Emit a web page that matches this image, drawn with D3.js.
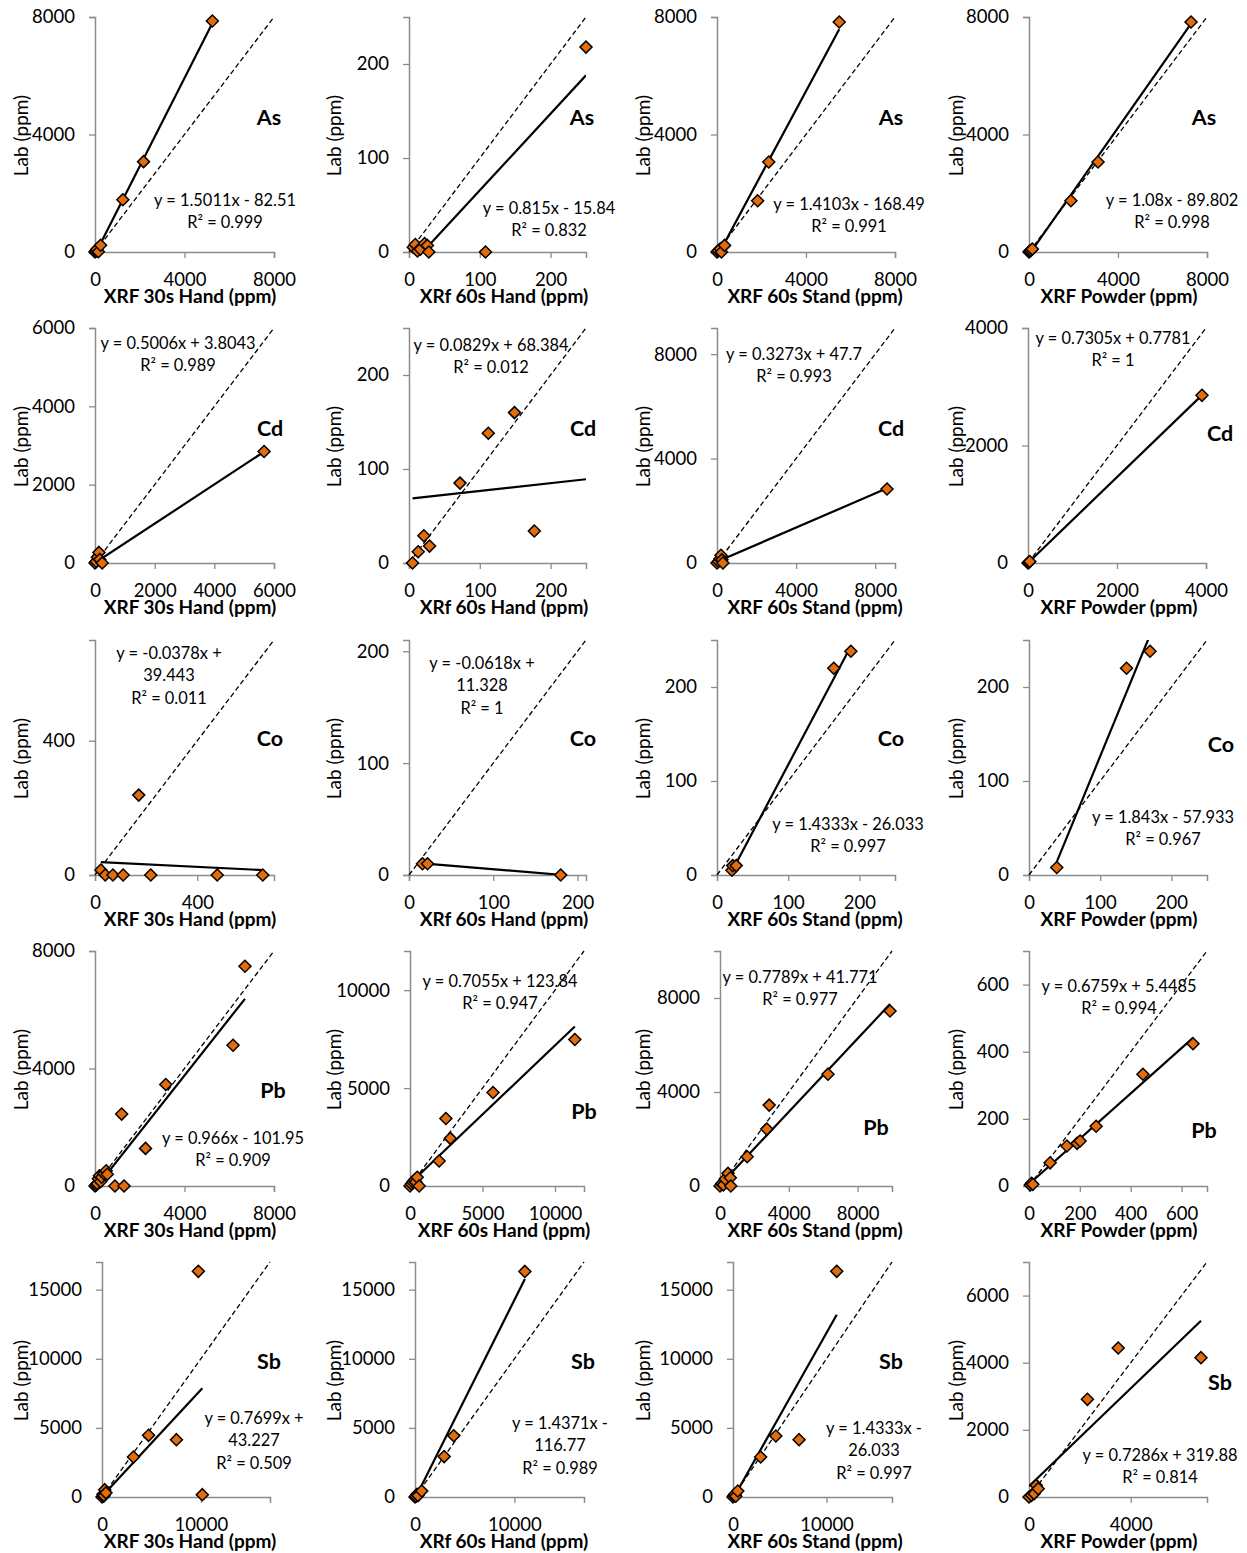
<!DOCTYPE html>
<html>
<head>
<meta charset="utf-8">
<script src="https://cdn.jsdelivr.net/npm/d3@7"></script>
<style>
  body { margin: 0; background: #ffffff; }
  svg { display: block; }
</style>
</head>
<body>
<div class="display"></div>
<script>
const WIDTH = 1247;
const HEIGHT = 1553;
const FONT = "Lato, 'Open Sans', sans-serif";
const AXIS_COLOR = '#8c8c8c';
const MARKER_FILL = '#e46c0a';

// one row per element, one column per XRF method
const ELEMENTS = ['As', 'Cd', 'Co', 'Pb', 'Sb'];
const X_TITLES = [
  ['XRF 30s Hand (ppm)', 'XRf 60s Hand (ppm)', 'XRF 60s Stand (ppm)', 'XRF Powder (ppm)'],
  ['XRF 30s Hand (ppm)', 'XRf 60s Hand (ppm)', 'XRF 60s Stand (ppm)', 'XRF Powder (ppm)'],
  ['XRF 30s Hand (ppm)', 'XRf 60s Hand (ppm)', 'XRF 60s Stand (ppm)', 'XRF Powder (ppm)'],
  ['XRF 30s Hand (ppm)', 'XRF 60s Hand (ppm)', 'XRF 60s Stand (ppm)', 'XRF Powder (ppm)'],
  ['XRF 30s Hand (ppm)', 'XRf 60s Hand (ppm)', 'XRF 60s Stand (ppm)', 'XRF Powder (ppm)']
];
const Y_TITLE = 'Lab (ppm)';

// [xrf, lab] pairs
const AS_HAND30 = [[0, 0], [40, 30], [80, 90], [150, 10], [250, 230], [1244, 1780], [2169, 3076], [5244, 7865]];
const AS_HAND60 = [[6, 5], [9, 8], [12, 1], [16, 3], [22, 9], [26, 7], [28, 0], [108, 0], [250, 218]];
const AS_STAND60 = [[0, 0], [60, 40], [150, 110], [200, 0], [340, 225], [1826, 1746], [2327, 3065], [5494, 7831]];
const AS_POWDER = [[0, 0], [40, 30], [100, 60], [150, 100], [1883, 1746], [3103, 3065], [7283, 7831]];

const CD_HAND30 = [[0, 0], [40, 40], [80, 150], [133, 270], [160, 90], [240, 0], [5667, 2848]];
const CD_HAND60 = [[5, 0], [13, 12], [21, 29], [29, 18], [72, 85], [112, 138], [149, 160], [177, 34]];
const CD_STAND60 = [[0, 0], [80, 60], [150, 160], [202, 294], [250, 120], [300, 0], [8596, 2834]];
const CD_POWDER = [[0, 0], [20, 10], [40, 25], [3910, 2854]];

const CO_HAND30 = [[23, 15], [40, 0], [70, 0], [110, 0], [171, 238], [218, 0], [478, 0], [656, 0]];
const CO_HAND60 = [[16, 10], [22, 10], [180, 0]];
const CO_STAND60 = [[21, 5], [22, 10], [27, 10], [164, 220], [188, 238]];
const CO_POWDER = [[39, 8], [137, 220], [170, 238]];

const PB_HAND30 = [[0, 0], [50, 30], [100, 80], [150, 250], [200, 350], [250, 150], [300, 300], [400, 420],
  [500, 520], [550, 400], [889, 0], [1191, 2448], [1298, 0], [2258, 1280], [3164, 3456], [6169, 4793], [6702, 7479]];
const PB_HAND60 = [[0, 0], [100, 100], [200, 200], [300, 300], [400, 200], [500, 450], [633, 0],
  [2009, 1275], [2477, 3450], [2780, 2431], [5725, 4776], [11367, 7479]];
const PB_STAND60 = [[0, 0], [100, 100], [200, 50], [300, 300], [465, 538], [600, 350], [628, 0],
  [1581, 1246], [2721, 2422], [2860, 3442], [6279, 4759], [9884, 7450]];
const PB_POWDER = [[5, 3], [10, 8], [15, 5], [83, 69], [149, 119], [189, 127], [201, 134], [264, 178], [448, 333], [645, 424]];

const SB_HAND30 = [[0, 0], [100, 200], [150, 50], [200, 100], [282, 530], [400, 300], [3182, 2894],
  [4713, 4461], [7533, 4148], [9749, 16325], [10152, 169]];
const SB_HAND60 = [[0, 0], [100, 50], [200, 200], [300, 100], [683, 438], [2934, 2923], [3898, 4433], [11052, 16318]];
const SB_STAND60 = [[0, 0], [100, 100], [200, 200], [300, 50], [514, 434], [2955, 2894], [4582, 4414], [7065, 4148], [11090, 16325]];
const SB_POWDER = [[0, 0], [100, 50], [200, 100], [283, 347], [362, 248], [2297, 2909], [3508, 4438], [6764, 4150]];

const PANEL_POINTS = [
  [AS_HAND30, AS_HAND60, AS_STAND60, AS_POWDER],
  [CD_HAND30, CD_HAND60, CD_STAND60, CD_POWDER],
  [CO_HAND30, CO_HAND60, CO_STAND60, CO_POWDER],
  [PB_HAND30, PB_HAND60, PB_STAND60, PB_POWDER],
  [SB_HAND30, SB_HAND60, SB_STAND60, SB_POWDER]
];

// axes are square: same max on x and y
const AXIS_MAX = [[8000, 250, 8000, 8000], [6000, 250, 9000, 4000], [700, 210, 250, 250], [8000, 12000, 10000, 700], [17000, 17000, 17000, 7000]];
const X_STEP = [[4000, 100, 4000, 4000], [2000, 100, 4000, 2000], [400, 100, 100, 100], [4000, 5000, 4000, 200], [10000, 10000, 10000, 4000]];
const Y_STEP = [[4000, 100, 4000, 4000], [2000, 100, 4000, 2000], [400, 100, 100, 100], [4000, 5000, 4000, 200], [5000, 5000, 5000, 2000]];

// trendlines as drawn
const SLOPE = [[1.5011, 0.815, 1.4103, 1.08], [0.5006, 0.0829, 0.3273, 0.7305], [-0.0378, -0.0618, 1.4333, 1.843], [0.966, 0.7055, 0.7789, 0.6759], [0.7699, 1.4371, 1.2, 0.7286]];
const INTERCEPT = [[-82.51, -15.84, -168.49, -89.802], [3.8043, 68.384, 47.7, 0.7781], [39.443, 11.328, -26.033, -57.933], [-101.95, 123.84, 41.771, 5.4485], [43.227, -116.77, -120, 319.88]];
const TREND_X = [
  [[0, 5244], [6, 250], [0, 5494], [0, 7283]],
  [[0, 5667], [5, 250], [0, 8596], [0, 3910]],
  [[23, 656], [16, 180], [21, 188], [39, 170]],
  [[0, 6702], [0, 11367], [0, 9884], [5, 645]],
  [[0, 10152], [0, 11052], [300, 11090], [0, 6764]]
];
const EQUATIONS = [
  [['y = 1.5011x - 82.51', 'R² = 0.999'], ['y = 0.815x - 15.84', 'R² = 0.832'], ['y = 1.4103x - 168.49', 'R² = 0.991'], ['y = 1.08x - 89.802', 'R² = 0.998']],
  [['y = 0.5006x + 3.8043', 'R² = 0.989'], ['y = 0.0829x + 68.384', 'R² = 0.012'], ['y = 0.3273x + 47.7', 'R² = 0.993'], ['y = 0.7305x + 0.7781', 'R² = 1']],
  [['y = -0.0378x +', '39.443', 'R² = 0.011'], ['y = -0.0618x +', '11.328', 'R² = 1'], ['y = 1.4333x - 26.033', 'R² = 0.997'], ['y = 1.843x - 57.933', 'R² = 0.967']],
  [['y = 0.966x - 101.95', 'R² = 0.909'], ['y = 0.7055x + 123.84', 'R² = 0.947'], ['y = 0.7789x + 41.771', 'R² = 0.977'], ['y = 0.6759x + 5.4485', 'R² = 0.994']],
  [['y = 0.7699x +', '43.227', 'R² = 0.509'], ['y = 1.4371x -', '116.77', 'R² = 0.989'], ['y = 1.4333x -', '26.033', 'R² = 0.997'], ['y = 0.7286x + 319.88', 'R² = 0.814']]
];

// layout
const ROW_TOP = [17, 328, 640, 951, 1262];
const PLOT_H = 235;
const COL_BOUNDS = [
  [[95, 274], [409, 586], [717, 895], [1029, 1207]],
  [[95, 274], [409, 586], [717, 895], [1028, 1206]],
  [[95, 274], [409, 586], [717, 895], [1029, 1207]],
  [[95, 274], [410, 584], [720, 892], [1029, 1207]],
  [[102, 270], [415, 584], [733, 892], [1029, 1207]]
];
const X_TITLE_X = [190, 504, 815, 1119];
const Y_TITLE_X = [21, 334, 643, 956];
const EQ_POS = [
  [[225, 200], [549, 208], [849, 204], [1172, 200]],
  [[178, 343], [491, 345], [794, 354], [1113, 338]],
  [[169, 653], [482, 663], [848, 824], [1163, 817]],
  [[233, 1138], [500, 981], [800, 977], [1119, 986]],
  [[254, 1418], [560, 1423], [874, 1428], [1160, 1455]]
];
const LABEL_POS = [
  [[269, 117], [582, 117], [891, 117], [1204, 117]],
  [[270, 428], [583, 428], [891, 428], [1220, 433]],
  [[270, 738], [583, 738], [891, 738], [1221, 744]],
  [[273, 1090], [584, 1111], [876, 1127], [1204, 1130]],
  [[269, 1361], [583, 1361], [891, 1361], [1220, 1382]]
];

let svg;

function setupSvg() {
  svg = d3.select('.display')
    .append('svg')
    .attr('width', WIDTH)
    .attr('height', HEIGHT)
    .style('font-family', FONT);

  svg.append('rect')
    .attr('width', WIDTH)
    .attr('height', HEIGHT)
    .attr('fill', '#ffffff');
}

function styleAxis(g) {
  g.attr('font-family', FONT).attr('font-size', 18.5);
  g.select('.domain').attr('stroke', AXIS_COLOR).attr('stroke-width', 1.5);
  g.selectAll('.tick line').attr('stroke', AXIS_COLOR).attr('stroke-width', 1.3);
  g.selectAll('.tick text').attr('fill', '#000000');
}

function drawPanel(r, c) {
  const top = ROW_TOP[r];
  const bottom = top + PLOT_H;
  const [left, right] = COL_BOUNDS[r][c];
  const max = AXIS_MAX[r][c];

  const x = d3.scaleLinear().domain([0, max]).range([left, right]);
  const y = d3.scaleLinear().domain([0, max]).range([bottom, top]);

  const panel = svg.append('g').attr('class', `panel-${r}-${c}`);

  const clipId = `clip-${r}-${c}`;
  panel.append('clipPath')
    .attr('id', clipId)
    .append('rect')
    .attr('x', left)
    .attr('y', top)
    .attr('width', right - left)
    .attr('height', PLOT_H);

  // axes
  panel.append('g')
    .attr('transform', `translate(0, ${bottom})`)
    .call(d3.axisBottom(x)
      .tickValues(d3.range(0, max + 1, X_STEP[r][c]))
      .tickFormat(d3.format('d'))
      .tickSizeOuter(0)
      .tickSize(6)
      .tickPadding(15))
    .call(styleAxis);

  panel.append('g')
    .attr('transform', `translate(${left}, 0)`)
    .call(d3.axisLeft(y)
      .tickValues(d3.range(0, max + 1, Y_STEP[r][c]))
      .tickFormat(d3.format('d'))
      .tickSizeOuter(0)
      .tickSize(6)
      .tickPadding(14))
    .call(styleAxis);

  // 1:1 reference line
  panel.append('line')
    .attr('x1', x(0))
    .attr('y1', y(0))
    .attr('x2', x(max))
    .attr('y2', y(max))
    .attr('stroke', '#000000')
    .attr('stroke-width', 1.3)
    .attr('stroke-dasharray', '5,3');

  // linear trendline
  const [x0, x1] = TREND_X[r][c];
  const f = v => SLOPE[r][c] * v + INTERCEPT[r][c];
  panel.append('line')
    .attr('clip-path', `url(#${clipId})`)
    .attr('x1', x(x0))
    .attr('y1', y(f(x0)))
    .attr('x2', x(x1))
    .attr('y2', y(f(x1)))
    .attr('stroke', '#000000')
    .attr('stroke-width', 2.2);

  // markers
  panel.selectAll('.point')
    .data(PANEL_POINTS[r][c])
    .enter()
    .append('path')
    .attr('class', 'point')
    .attr('d', 'M0,-6L6,0L0,6L-6,0Z')
    .attr('transform', d => `translate(${x(d[0])}, ${y(d[1])})`)
    .attr('fill', MARKER_FILL)
    .attr('stroke', '#000000')
    .attr('stroke-width', 1.5);

  // axis titles
  panel.append('text')
    .attr('x', X_TITLE_X[c])
    .attr('y', bottom + 44)
    .attr('dy', '0.35em')
    .attr('text-anchor', 'middle')
    .attr('font-weight', 'bold')
    .attr('font-size', 19)
    .text(X_TITLES[r][c]);

  const ty = top + PLOT_H / 2 + 1;
  panel.append('text')
    .attr('x', Y_TITLE_X[c])
    .attr('y', ty)
    .attr('dy', '0.35em')
    .attr('transform', `rotate(-90, ${Y_TITLE_X[c]}, ${ty})`)
    .attr('text-anchor', 'middle')
    .attr('font-size', 19)
    .text(Y_TITLE);

  // element label
  const [lx, ly] = LABEL_POS[r][c];
  panel.append('text')
    .attr('x', lx)
    .attr('y', ly)
    .attr('dy', '0.35em')
    .attr('text-anchor', 'middle')
    .attr('font-weight', 'bold')
    .attr('font-size', 21.5)
    .text(ELEMENTS[r]);

  // equation text
  const [ex, ey] = EQ_POS[r][c];
  EQUATIONS[r][c].forEach((line, i) => {
    panel.append('text')
      .attr('x', ex)
      .attr('y', ey + i * 22.5)
      .attr('dy', '0.35em')
      .attr('text-anchor', 'middle')
      .attr('font-size', 16.4)
      .text(line);
  });
}

window.addEventListener('load', () => {
  setupSvg();
  for (let r = 0; r < ELEMENTS.length; r++) {
    for (let c = 0; c < 4; c++) {
      drawPanel(r, c);
    }
  }
}, false);
</script>
</body>
</html>
